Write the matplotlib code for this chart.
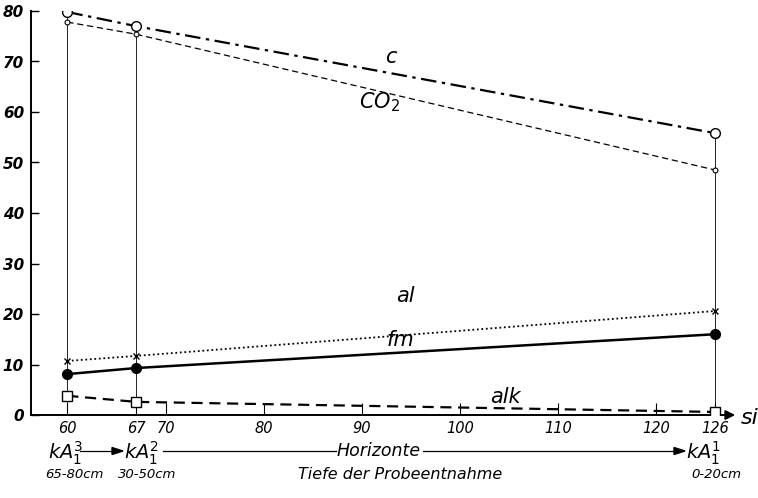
import numpy as np
import matplotlib.pyplot as plt

# si values of the three soil horizons
si = [60, 67, 126]

# Niggli values per horizon
c_vals = [79.8, 77.0, 55.8]
co2_vals = [77.8, 75.4, 48.5]
al_vals = [10.7, 11.7, 20.6]
fm_vals = [8.1, 9.3, 16.0]
alk_vals = [3.8, 2.6, 0.6]

xticks = [60, 67, 70, 80, 90, 100, 110, 120, 126]
yticks = [0, 10, 20, 30, 40, 50, 60, 70, 80]

plt.rcParams['font.family'] = ['DejaVu Sans']
plt.rcParams['mathtext.fontset'] = 'dejavusans'

W, H = 758, 498
fig = plt.figure(figsize=(W / 100, H / 100), dpi=100)
ax = fig.add_axes([31 / W, 1 - 415 / H, (738 - 31) / W, (415 - 11) / H])

x0, x1 = 56.3, 128.3
ax.set_xlim(x0, x1)
ax.set_ylim(0, 80)

# vertical drop lines for each horizon
for x, top in zip(si, c_vals):
    ax.plot([x, x], [0, top], color='black', lw=0.6, zorder=1)

ax.plot(si, c_vals, color='black', ls=(0, (7, 2.5, 1.5, 2.5)), lw=1.6,
        marker='o', ms=7, mfc='white', mec='black', mew=1.0, zorder=3)
ax.plot(si, co2_vals, color='black', ls=(0, (5, 3)), lw=0.9,
        marker='o', ms=3.5, mfc='white', mec='black', mew=0.8, zorder=3)
ax.plot(si, al_vals, color='black', ls=(0, (1, 1.5)), lw=1.3,
        marker='x', ms=4.5, mew=1.0, zorder=3)
ax.plot(si, fm_vals, color='black', ls='-', lw=1.8,
        marker='o', ms=7, mfc='black', mec='black', zorder=3)
ax.plot(si, alk_vals, color='black', ls=(0, (5, 3)), lw=1.6,
        marker='s', ms=6.5, mfc='white', mec='black', mew=1.0, zorder=3)

# curve labels
lab = dict(fontsize=15, style='italic', ha='center', va='center')
ax.text(92.9, 70.8, 'c', **lab)
ax.text(91.8, 62.0, 'CO$_2$', **lab)
ax.text(94.4, 23.5, 'al', **lab)
ax.text(93.9, 14.8, 'fm', **lab)
ax.text(104.6, 3.6, 'alk', **lab)

# axes styling
for s in ['top', 'right']:
    ax.spines[s].set_visible(False)
ax.spines['left'].set_linewidth(1.4)
ax.spines['bottom'].set_linewidth(1.4)
ax.spines['bottom'].set_bounds(x0, 127.5)

ax.set_yticks(yticks)
ax.set_yticklabels([str(v) for v in yticks], fontsize=11, style='italic',
                   fontweight='bold')
ax.tick_params(axis='y', direction='in', length=6, width=1.0, pad=5)

ax.set_xticks(xticks)
ax.set_xticklabels([str(v) for v in xticks], fontsize=10.5, style='italic')
ax.tick_params(axis='x', direction='in', length=9, width=0.8, pad=4)

# arrow at end of si axis
ax.annotate('', xy=(x1, 0), xytext=(126.5, 0), xycoords='data',
            arrowprops=dict(arrowstyle='-|>', color='black', lw=1.4,
                            mutation_scale=14), annotation_clip=False)
fig.text(741 / W, 1 - 418 / H, 'si', fontsize=16, style='italic',
         ha='left', va='center')

# horizon sequence below the axis
def ft(px, py, s, **kw):
    fig.text(px / W, 1 - py / H, s, **kw)

row1 = 453
hz = dict(fontsize=14, va='center')
ft(48, row1, '$kA_1^3$', ha='left', **hz)
ft(124, row1, '$kA_1^2$', ha='left', **hz)
ft(379, row1 - 2, 'Horizonte', ha='center', fontsize=12.5, style='italic',
   va='center')
ft(686, row1, '$kA_1^1$', ha='left', **hz)

def farrow(xa, xb, y, head=True):
    fig.add_artist(plt.Line2D([xa / W, xb / W], [1 - y / H, 1 - y / H],
                              color='black', lw=0.9))
    if head:
        fig.patches.append(plt.Polygon(
            [[xb / W, 1 - (y - 3.5) / H], [(xb + 11) / W, 1 - y / H],
             [xb / W, 1 - (y + 3.5) / H]], closed=True, color='black',
            transform=fig.transFigure, figure=fig))

farrow(80, 112, row1 - 2)
farrow(163, 336, row1 - 2, head=False)
farrow(423, 674, row1 - 2)

row2 = 474
dp = dict(fontsize=9.5, style='italic', va='center', ha='center')
ft(74, row2, '65-80cm', **dp)
ft(147, row2, '30-50cm', **dp)
ft(400, row2, 'Tiefe der Probeentnahme', fontsize=11.5, style='italic',
   va='center', ha='center')
ft(716, row2, '0-20cm', **dp)

fig.savefig('out.png', dpi=100)
